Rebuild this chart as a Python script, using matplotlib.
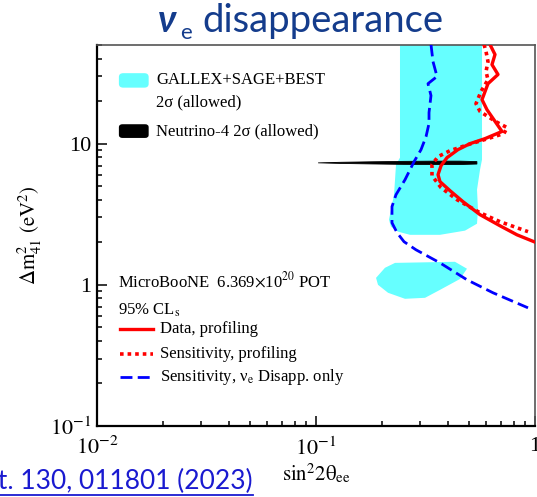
import matplotlib
matplotlib.use('Agg')
import matplotlib.pyplot as plt
import matplotlib.patches as mpatches
from matplotlib.lines import Line2D
from matplotlib.ticker import LogLocator, NullFormatter

plt.rcParams['font.family'] = ['Liberation Serif', 'DejaVu Serif']
plt.rcParams['mathtext.fontset'] = 'stix'

# GALLEX+SAGE+BEST 2 sigma allowed region, upper island (sin^2 2theta_ee, dm^2_41)
gsb_main_x = [0.2418, 0.2418, 0.2319, 0.2295, 0.2271, 0.2200, 0.2154, 0.2200, 0.2368,
              0.2687, 0.3683, 0.4791, 0.5435, 0.549, 0.5435, 0.5610, 0.5728, 0.5728]
gsb_main_y = [60, 7.96, 7.10, 5.55, 4.35, 3.40, 2.89, 2.58, 2.38,
              2.26, 2.26, 2.42, 2.71, 3.40, 4.72, 6.54, 7.70, 60]

# lower island
gsb_low_x = [0.188, 0.2065, 0.2295, 0.431, 0.489, 0.4545, 0.3683, 0.3147, 0.2549, 0.2133, 0.1919]
gsb_low_y = [1.12, 1.32, 1.43, 1.456, 1.30, 1.10, 0.921, 0.809, 0.796, 0.878, 1.0]

# Neutrino-4 2 sigma allowed (thin band)
n4_x = [0.102, 0.13, 0.18, 0.25, 0.35, 0.45, 0.54]
n4_lo = [7.37, 7.30, 7.24, 7.19, 7.17, 7.17, 7.23]
n4_hi = [7.37, 7.44, 7.50, 7.55, 7.58, 7.58, 7.52]

# MicroBooNE data, profiling
data_x = [0.6228, 0.6566, 0.6361, 0.6776, 0.6099, 0.5728, 0.6035, 0.7067, 0.5911, 0.5050,
          0.4449, 0.3965, 0.3723, 0.3607, 0.3683, 0.4093, 0.4690, 0.5610, 0.6920, 0.8276, 0.9895]
data_y = [50.4, 42.8, 36.3, 30.9, 26.6, 20.5, 17.4, 12.2, 10.85, 10.0,
          9.07, 7.96, 6.98, 6.03, 5.38, 4.64, 3.88, 3.14, 2.62, 2.26, 2.02]

# sensitivity, profiling
sens_x = [0.5851, 0.5975, 0.6099, 0.5975, 0.6099, 0.5667, 0.5377, 0.5610, 0.6635, 0.7449, 0.7218,
          0.5911, 0.4945, 0.4093, 0.3607, 0.3385, 0.3385, 0.3723, 0.4403, 0.5610, 0.6920, 0.9290]
sens_y = [50.4, 44.9, 38.2, 32.4, 28.4, 23.4, 19.2, 16.9, 14.3, 13.0, 11.8,
          10.7, 9.84, 8.92, 8.09, 7.10, 5.93, 4.88, 4.01, 3.24, 2.80, 2.38]

# sensitivity, nu_e disappearance only
dis_x = [0.3350, 0.3421, 0.3569, 0.3246, 0.3350, 0.3281, 0.3281, 0.3179, 0.3017, 0.2803, 0.2549,
         0.2319, 0.2223, 0.2223, 0.2344, 0.2523, 0.2862, 0.3683, 0.4893, 0.6431, 0.9290]
dis_y = [50.4, 38.2, 29.9, 26.6, 21.9, 16.6, 13.9, 11.2, 9.07, 7.45, 5.55,
         4.35, 3.58, 2.75, 2.34, 2.02, 1.77, 1.43, 1.085, 0.878, 0.687]

cyan = '#66ffff'
red = '#ff0000'
blue = '#0000ff'

fig = plt.figure(figsize=(5.37, 4.97), dpi=100)
ax = fig.add_axes([0.1806, 0.1429, 0.8157, 0.7666])
ax.set_xscale('log')
ax.set_yscale('log')

ax.fill(gsb_main_x, gsb_main_y, color=cyan, lw=0, zorder=1)
ax.fill(gsb_low_x, gsb_low_y, color=cyan, lw=0, zorder=1)
ax.fill_between(n4_x, n4_lo, n4_hi, color='black', lw=0.6, zorder=2)

ax.plot(dis_x, dis_y, color=blue, lw=2.0, dashes=(4.3, 1.9), zorder=3)
ax.plot(sens_x, sens_y, color=red, lw=2.6, linestyle=(0, (1, 1.1)), zorder=4)
ax.plot(data_x, data_y, color=red, lw=2.4, zorder=5)

ax.set_xlim(0.01, 1)
ax.set_ylim(0.1, 50)

ax.set_xticks([0.01, 0.1, 1])
ax.set_xticklabels([r'$10^{-2}$', r'$10^{-1}$', '1'])
ax.set_yticks([0.1, 1, 10])
ax.set_yticklabels([r'$10^{-1}$', '1', '10'])
ax.xaxis.set_minor_locator(LogLocator(base=10, subs=range(2, 10)))
ax.yaxis.set_minor_locator(LogLocator(base=10, subs=range(2, 10)))
ax.xaxis.set_minor_formatter(NullFormatter())
ax.yaxis.set_minor_formatter(NullFormatter())
ax.tick_params(which='both', direction='in', top=False, right=False, width=1.1, labelsize=16)
ax.tick_params(which='major', length=7)
ax.tick_params(which='minor', length=3.6)
ax.tick_params(axis='x', pad=8)
ax.tick_params(axis='y', pad=4)

for s in ['left', 'bottom']:
    ax.spines[s].set_linewidth(1.6)
for s in ['top', 'right']:
    ax.spines[s].set_linewidth(1.2)
    ax.spines[s].set_color('#555555')

ax.set_xlabel(r'$\mathrm{sin}^{2}2\mathrm{\theta}_{\mathrm{ee}}$', fontsize=15, labelpad=2)
ax.set_ylabel(r'$\Delta\mathrm{m}^{2}_{41}\ (\mathrm{eV}^{2})$', fontsize=15, labelpad=4)

# legend, upper part
ax.add_patch(mpatches.FancyBboxPatch((0.050, 0.888), 0.068, 0.038, boxstyle='round,pad=0.0,rounding_size=0.01',
                                     transform=ax.transAxes, color=cyan, lw=0, zorder=6))
ax.add_patch(mpatches.FancyBboxPatch((0.050, 0.756), 0.068, 0.036, boxstyle='round,pad=0.0,rounding_size=0.008',
                                     transform=ax.transAxes, color='black', lw=0, zorder=6))
ax.text(0.1347, 0.908, 'GALLEX+SAGE+BEST', transform=ax.transAxes, fontsize=12, va='center')
ax.text(0.1347, 0.848, '2σ (allowed)', transform=ax.transAxes, fontsize=12, va='center')
ax.text(0.1347, 0.774, 'Neutrino-4 2σ (allowed)', transform=ax.transAxes, fontsize=12, va='center')

# legend, lower part
ax.text(0.048, 0.381, r'MicroBooNE  6.369$\times$10$^{20}$ POT', transform=ax.transAxes, fontsize=12, va='center')
ax.text(0.048, 0.304, r'95% CL$_{\mathrm{s}}$', transform=ax.transAxes, fontsize=12, va='center')
leg_y = [0.2546, 0.189, 0.1286]
leg_lab = ['Data, profiling', 'Sensitivity, profiling', r'Sensitivity, ν$_{\mathrm{e}}$ Disapp. only']
ax.add_line(Line2D([0.0525, 0.128], [leg_y[0]] * 2, transform=ax.transAxes, color=red, lw=2.4))
ax.add_line(Line2D([0.0525, 0.128], [leg_y[1]] * 2, transform=ax.transAxes, color=red, lw=2.6, linestyle=(0, (1, 1.1))))
ax.add_line(Line2D([0.0525, 0.128], [leg_y[2]] * 2, transform=ax.transAxes, color=blue, lw=2.0, dashes=(4.3, 1.9)))
for yy, lab in zip(leg_y, leg_lab):
    ax.text(0.1438, yy, lab, transform=ax.transAxes, fontsize=12, va='center')

# slide title
title_c = '#143c8c'
fig.text(158 / 537, 1 - 32 / 497, 'ν', fontsize=27, family='Lato', weight='bold', style='italic',
         color=title_c, va='baseline')
fig.text(180 / 537, 1 - 39 / 497, 'e', fontsize=16, family='Lato', color=title_c, va='baseline')
fig.text(202 / 537, 1 - 32 / 497, 'disappearance', fontsize=27.5, family='Lato', color=title_c, va='baseline')

# reference link, cut at the left edge
link_c = '#1a1ad0'
fig.text(253 / 537, 1 - 481 / 497, 'Phys. Rev. Lett. 130, 011801 (2023)', fontsize=19, family='Lato',
         color=link_c, ha='right', va='center')
fig.add_artist(Line2D([0, 253 / 537], [1 - 495 / 497] * 2, transform=fig.transFigure, color=link_c, lw=1.3))

fig.savefig('out.png', dpi=100)
